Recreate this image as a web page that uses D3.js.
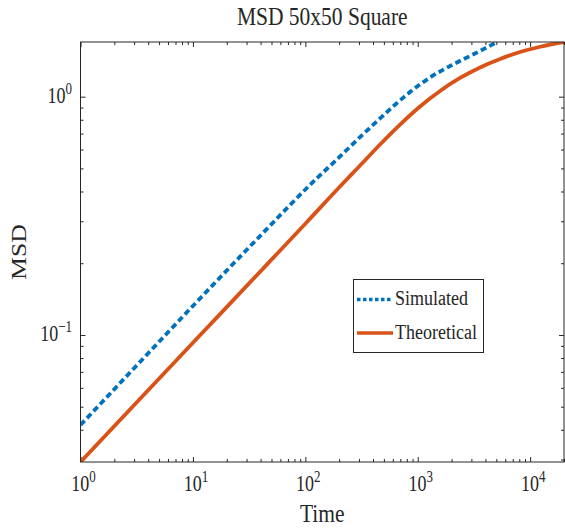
<!DOCTYPE html>
<html>
<head>
<meta charset="utf-8">
<script src="https://cdn.jsdelivr.net/npm/d3@7"></script>
<style>
  html, body { margin: 0; padding: 0; background: #fff; }
  svg { display: block; }
</style>
</head>
<body>
<div id="chart"></div>
<script>
// ---- data ----
const theoryTime = [1, 10, 50, 100, 203.5, 306.7, 461.9, 696, 1048, 1579, 2379, 3584, 5398, 8131, 12250, 20000];
const theoryMSD  = [0.0293, 0.0927, 0.207, 0.293, 0.420, 0.514, 0.630, 0.764, 0.910, 1.057, 1.198, 1.326, 1.439, 1.540, 1.620, 1.696];

const simTime = [1, 3.38, 11.57, 39.5, 122, 203.5, 306.7, 461.9, 628, 854, 1287, 1939, 2920, 3970, 5076];
const simMSD  = [0.0419, 0.0770, 0.1423, 0.260, 0.447, 0.561, 0.677, 0.810, 0.925, 1.046, 1.204, 1.345, 1.482, 1.594, 1.696];

const xDomain = [1, 20000];
const yDomain = [0.0293, 1.696];
const xMajor = [1, 10, 100, 1000, 10000];
const xExp = ['0', '1', '2', '3', '4'];
const yMajor = [0.1, 1];
const yExp = ['\u22121', '0'];
const minorMult = [2, 3, 4, 5, 6, 7, 8, 9];

const W = 565, H = 532;
const M = { left: 80.5, top: 42, right: 1, bottom: 70 };
const AXIS = '#262626';
const BLUE = '#0072BD', ORANGE = '#D95319';
const FONT = "'Liberation Serif', 'Times New Roman', serif";
const SY = 1.2;   // reference text is a little stretched vertically

const svg = d3.select('#chart').append('svg')
  .attr('width', W).attr('height', H);

const x = d3.scaleLog().domain(xDomain).range([M.left, W - M.right]);
const y = d3.scaleLog().domain(yDomain).range([H - M.bottom, M.top]);
const [x0, x1] = x.range();
const [y0, y1] = y.range();

const xMinor = xMajor.flatMap(d => minorMult.map(m => d * m)).filter(v => v <= xDomain[1]);
const yMinor = [0.01, 0.1].flatMap(d => minorMult.map(m => d * m)).filter(v => v >= yDomain[0] && v <= yDomain[1]);

// ---- ticks (inside, on all four sides) ----
function ticks(axisFn, scale, vals, len, transform) {
  const g = svg.append('g').attr('transform', transform)
    .call(axisFn(scale).tickValues(vals).tickSize(-len).tickFormat(''));
  g.select('.domain').remove();
  g.selectAll('line').attr('stroke', AXIS).attr('stroke-width', 1);
}
ticks(d3.axisBottom, x, xMajor, 5, `translate(0,${y0})`);
ticks(d3.axisBottom, x, xMinor, 3, `translate(0,${y0})`);
ticks(d3.axisTop, x, xMajor, 5, `translate(0,${y1})`);
ticks(d3.axisTop, x, xMinor, 3, `translate(0,${y1})`);
ticks(d3.axisLeft, y, yMajor, 5, `translate(${x0},0)`);
ticks(d3.axisLeft, y, yMinor, 3, `translate(${x0},0)`);
ticks(d3.axisRight, y, yMajor, 5, `translate(${x1},0)`);
ticks(d3.axisRight, y, yMinor, 3, `translate(${x1},0)`);

// ---- lines ----
svg.append('clipPath').attr('id', 'plotclip')
  .append('rect').attr('x', x0).attr('y', y1)
  .attr('width', x1 - x0).attr('height', y0 - y1);

const line = d3.line()
  .x(d => x(d[0])).y(d => y(d[1]))
  .curve(d3.curveMonotoneX);

const plot = svg.append('g').attr('clip-path', 'url(#plotclip)');
plot.append('path')
  .datum(d3.zip(simTime, simMSD))
  .attr('d', line)
  .attr('fill', 'none')
  .attr('stroke', BLUE)
  .attr('stroke-width', 3.8)
  .attr('stroke-dasharray', '6,3.5');
plot.append('path')
  .datum(d3.zip(theoryTime, theoryMSD))
  .attr('d', line)
  .attr('fill', 'none')
  .attr('stroke', ORANGE)
  .attr('stroke-width', 3.8);

// axes box
svg.append('rect')
  .attr('x', x0).attr('y', y1)
  .attr('width', x1 - x0).attr('height', y0 - y1)
  .attr('fill', 'none').attr('stroke', AXIS).attr('stroke-width', 1);

// ---- text helpers ----
function label(px, py, anchor, size, parts, rotate, sy = SY) {
  const g = svg.append('g')
    .attr('transform', `translate(${px},${py})` + (rotate ? ' rotate(-90)' : '') +
      (rotate ? ` scale(${sy},1)` : ` scale(1,${sy})`));
  const t = g.append('text')
    .attr('text-anchor', anchor)
    .attr('fill', AXIS)
    .style('font-family', FONT)
    .style('font-size', size + 'px');
  parts.forEach(p => {
    t.append('tspan')
      .attr('dy', p.dy || 0)
      .style('font-size', (p.size || size) + 'px')
      .text(p.text);
  });
  return g;
}

// tick labels
xMajor.forEach((v, i) => {
  label(x(v) + 3, 491, 'middle', 18, [{ text: '10' }, { text: xExp[i], size: 13, dy: -7 }], false, 1.3);
});
yMajor.forEach((v, i) => {
  label(72, y(v) + 6.5, 'end', 18, [{ text: '10' }, { text: yExp[i], size: 13, dy: -7 }], false, 1.3);
});

// title and axis labels
label((x0 + x1) / 2, 25, 'middle', 21.5, [{ text: 'MSD 50x50 Square' }]);
label((x0 + x1) / 2, 522, 'middle', 21.5, [{ text: 'Time' }]);
label(26, (y0 + y1) / 2, 'middle', 21.5, [{ text: 'MSD' }], true);

// ---- legend ----
const lg = { x: 353.5, y: 279.5, w: 130, h: 73 };
svg.append('rect')
  .attr('x', lg.x).attr('y', lg.y).attr('width', lg.w).attr('height', lg.h)
  .attr('fill', '#fff').attr('stroke', AXIS).attr('stroke-width', 1);
const legendItems = [
  { name: 'Simulated', color: BLUE, dash: '3.5,2.5' },
  { name: 'Theoretical', color: ORANGE, dash: null }
];
legendItems.forEach((d, i) => {
  const cy = lg.y + 20 + i * 33.5;
  svg.append('line')
    .attr('x1', lg.x + 3.5).attr('x2', lg.x + 39.5)
    .attr('y1', cy).attr('y2', cy)
    .attr('stroke', d.color).attr('stroke-width', 3.6)
    .attr('stroke-dasharray', d.dash);
  label(lg.x + 41.5, cy + 5.5, 'start', 18, [{ text: d.name }]);
});
</script>
</body>
</html>
